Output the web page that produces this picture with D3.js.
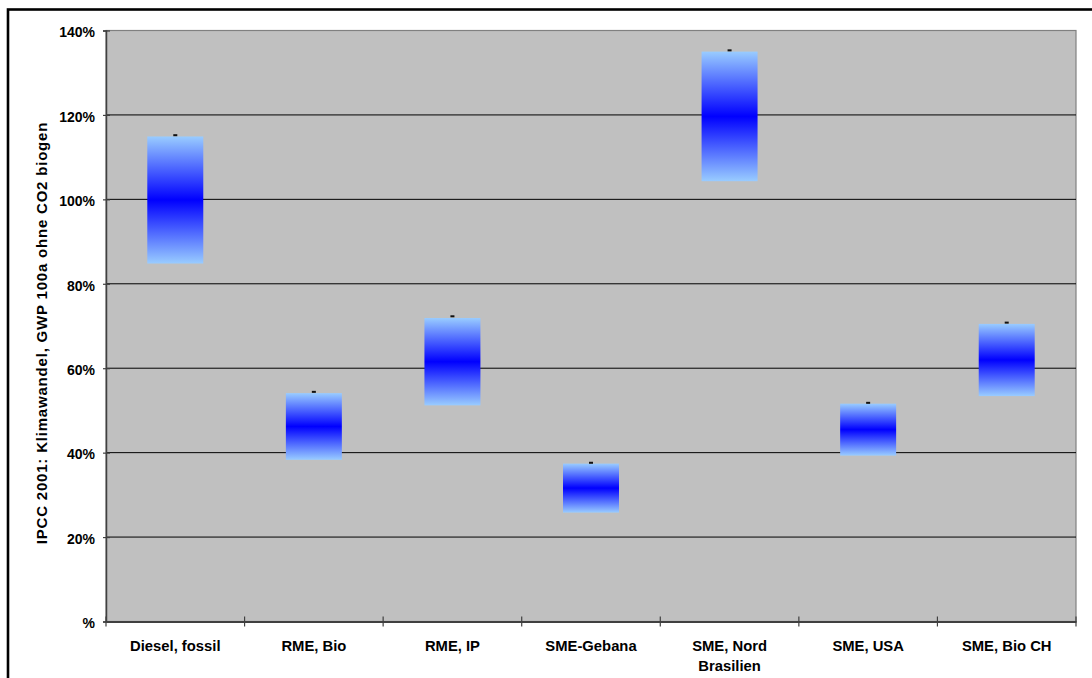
<!DOCTYPE html>
<html>
<head>
<meta charset="utf-8">
<script src="https://cdn.jsdelivr.net/npm/d3@7"></script>
<style>
  html, body { margin: 0; padding: 0; background: #fff; }
  svg { display: block; }
  text { font-family: "Liberation Sans", Arial, sans-serif; font-weight: bold; fill: #000; }
</style>
</head>
<body>
<svg id="chart" width="1092" height="678"></svg>
<script>
// ---- Data ----
const categories = ["Diesel, fossil", "RME, Bio", "RME, IP", "SME-Gebana", "SME, Nord Brasilien", "SME, USA", "SME, Bio CH"];
const highValues  = [115.2, 54.4, 72.3, 37.6, 135.3, 51.8, 70.8];   // small marker at top
const upperValues = [114.9, 54.1, 71.9, 37.4, 135.0, 51.6, 70.5];   // box top
const lowerValues = [84.8, 38.3, 51.2, 25.8, 104.3, 39.3, 53.4];    // box bottom
const yTicks = [0, 20, 40, 60, 80, 100, 120, 140];
const yTickLabels = ["%", "20%", "40%", "60%", "80%", "100%", "120%", "140%"];
const yTitle = "IPCC 2001: Klimawandel, GWP 100a ohne CO2 biogen";

const svg = d3.select("#chart");
const W = 1092, H = 678;
const plot = { left: 106, top: 30.5, right: 1076, bottom: 621.5 };

// outer frame (extends beyond viewport on right/bottom)
svg.append("rect")
  .attr("x", 8).attr("y", 9.5)
  .attr("width", W + 20).attr("height", H + 20)
  .attr("fill", "#fff").attr("stroke", "#000").attr("stroke-width", 2.6);

const x = d3.scaleBand().domain(categories).range([plot.left, plot.right]).padding(0);
const y = d3.scaleLinear().domain([0, 140]).range([plot.bottom, plot.top]);

// gradient
const defs = svg.append("defs");
const grad = defs.append("linearGradient").attr("id", "boxGrad")
  .attr("x1", 0).attr("y1", 0).attr("x2", 0).attr("y2", 1);
grad.append("stop").attr("offset", "0%").attr("stop-color", "#99CCFF");
grad.append("stop").attr("offset", "50%").attr("stop-color", "#0000FF");
grad.append("stop").attr("offset", "100%").attr("stop-color", "#99CCFF");

// plot area
svg.append("rect")
  .attr("x", plot.left).attr("y", plot.top)
  .attr("width", plot.right - plot.left).attr("height", plot.bottom - plot.top)
  .attr("fill", "#C0C0C0").attr("stroke", "#808080").attr("stroke-width", 1.2);

// gridlines
svg.append("g").selectAll("line")
  .data(yTicks.filter(d => d > 0 && d < 140))
  .join("line")
  .attr("x1", plot.left).attr("x2", plot.right)
  .attr("y1", d => y(d)).attr("y2", d => y(d))
  .attr("stroke", "#000").attr("stroke-width", 1);

// boxes
const boxW = x.bandwidth() * 0.404;
const data = categories.map((c, i) => ({ c, hi: highValues[i], up: upperValues[i], lo: lowerValues[i] }));
svg.append("g").selectAll("rect")
  .data(data)
  .join("rect")
  .attr("x", d => x(d.c) + x.bandwidth() / 2 - boxW / 2)
  .attr("y", d => y(d.up))
  .attr("width", boxW)
  .attr("height", d => y(d.lo) - y(d.up))
  .attr("fill", "url(#boxGrad)");

// markers
svg.append("g").selectAll("rect")
  .data(data)
  .join("rect")
  .attr("x", d => x(d.c) + x.bandwidth() / 2 - 2)
  .attr("y", d => y(d.hi) - 1)
  .attr("width", 4).attr("height", 2)
  .attr("fill", "#111");

// y axis (cross ticks)
const yAxis = d3.axisLeft(y).tickValues(yTicks)
  .tickFormat((d, i) => yTickLabels[i]).tickSize(3).tickPadding(8);
const gy = svg.append("g").attr("transform", `translate(${plot.left},0)`).call(yAxis);
gy.select(".domain").attr("stroke", "#404040").attr("stroke-width", 1.5);
gy.selectAll(".tick line").attr("x2", -3).attr("x1", 4).attr("stroke", "#404040").attr("stroke-width", 1.2);
gy.selectAll(".tick text")
  .attr("x", -11).attr("dy", "0.45em")
  .style("font-size", "14px").style("font-family", "'Liberation Sans', Arial, sans-serif")
  .style("font-weight", "bold").attr("fill", "#000");

// x axis
const xAxis = d3.axisBottom(x).tickSize(0).tickFormat("");
const gx = svg.append("g").attr("transform", `translate(0,${plot.bottom})`).call(xAxis);
gx.select(".domain").attr("stroke", "#404040").attr("stroke-width", 2);
gx.selectAll(".tick").remove();
// category boundary ticks (crossing the axis)
const bounds = categories.map(c => x(c)).concat([plot.right]);
svg.append("g").selectAll("line")
  .data(bounds)
  .join("line")
  .attr("x1", d => d).attr("x2", d => d)
  .attr("y1", plot.bottom - 5).attr("y2", plot.bottom + 5)
  .attr("stroke", "#404040").attr("stroke-width", 1.2);

// category labels (wrap long ones)
const labelLines = c => c === "SME, Nord Brasilien" ? ["SME, Nord", "Brasilien"] : [c];
const lg = svg.append("g");
categories.forEach(c => {
  const t = lg.append("text")
    .attr("x", x(c) + x.bandwidth() / 2)
    .attr("y", 651)
    .attr("text-anchor", "middle")
    .style("font-size", "14.8px");
  labelLines(c).forEach((ln, j) => {
    t.append("tspan").attr("x", x(c) + x.bandwidth() / 2).attr("dy", j === 0 ? 0 : 19.5).text(ln);
  });
});

// y title
svg.append("text")
  .attr("transform", `translate(47,333) rotate(-90)`)
  .attr("text-anchor", "middle")
  .style("font-size", "15px")
  .style("letter-spacing", "0.8px")
  .text(yTitle);
</script>
</body>
</html>
